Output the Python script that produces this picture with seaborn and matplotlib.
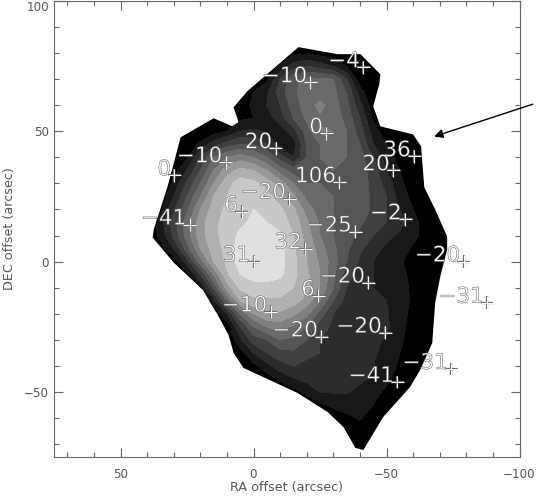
# Gray contour map of RA/DEC offsets with labelled positions
import numpy as np
import pandas as pd
import seaborn as sns
import matplotlib.pyplot as plt
import matplotlib.patheffects as pe
from matplotlib.patches import Polygon
from matplotlib.ticker import MultipleLocator

# Grid of map levels
ra_grid = [40, 35, 30, 25, 20, 15, 10, 5, 0, -5, -10, -15, -20, -25, -30, -35, -40, -45, -50, -55, -60, -65, -70, -75, -80]
dec_grid = [85, 80, 75, 70, 65, 60, 55, 50, 45, 40, 35, 30, 25, 20, 15, 10, 5, 0, -5, -10, -15, -20, -25, -30, -35, -40, -45, -50, -55, -60, -65, -70, -75]
level_rows = [
    [0, 0, 0, 0, 0, 0, 0, 0, 0, 0, 0, 0, 0, 0, 0, 0, 0, 0, 0, 0, 0, 0, 0, 0, 0],
    [0, 0, 0, 0, 0, 0, 0, 0, 0, 0, 0, .7, .9, .6, .3, 0, 0, 0, 0, 0, 0, 0, 0, 0, 0],
    [0, 0, 0, 0, 0, 0, 0, 0, 0, .3, 1.2, 2.5, 3, 2.5, 2, 1, .5, 0, 0, 0, 0, 0, 0, 0, 0],
    [0, 0, 0, 0, 0, 0, 0, 0, .1, .8, 3, 4.8, 5.2, 5.2, 5, 3, .3, 0, 0, 0, 0, 0, 0, 0, 0],
    [0, 0, 0, 0, 0, 0, 0, 0, 1, 1.8, 3.5, 4.8, 5.5, 5.5, 5.3, 4, 1.5, 0, 0, 0, 0, 0, 0, 0, 0],
    [0, 0, 0, 0, 0, 0, 0, .5, 1.2, 2, 3, 4.5, 5.5, 6.3, 5.5, 4.3, 2.3, .4, 0, 0, 0, 0, 0, 0, 0],
    [0, 0, 0, 0, 0, 0, .3, .8, 1, 1.5, 2.5, 4, 5.2, 5.8, 5.5, 4.7, 3, .8, 0, 0, 0, 0, 0, 0, 0],
    [0, 0, 0, 0, .2, .5, 1, 2, 2.2, 1.8, 1.5, 2.5, 4.5, 6.1, 6, 5, 3.5, 1.5, .4, .2, 0, 0, 0, 0, 0],
    [0, 0, 0, .3, 1.2, 2.5, 3.5, 4, 4, 3, 1.5, 1.5, 4, 5, 5.5, 5, 4, 2, 1, .5, .2, 0, 0, 0, 0],
    [0, 0, .2, .8, 3, 5, 6, 6.5, 6, 5, 3.5, 2, 4, 5, 5.5, 5, 4.5, 3, 1.5, .6, .2, 0, 0, 0, 0],
    [0, 0, .6, 2, 4, 6, 7.5, 8.3, 8, 7, 5.5, 4.5, 4.5, 5, 5, 5, 4.5, 3.5, 2, 1, .4, 0, 0, 0, 0],
    [0, 0, 1.2, 3.2, 5, 7, 8.6, 9.5, 9.3, 8.5, 7.5, 6, 5, 5, 5, 5, 4.5, 3.7, 2.6, 1.2, .5, 0, 0, 0, 0],
    [0, .3, 2, 4, 6, 8, 9, 9.5, 9.5, 9.3, 8.5, 7.2, 5.7, 5.2, 5, 5, 4.5, 3.8, 3, 1.5, .7, .3, 0, 0, 0],
    [0, .8, 2.8, 4.8, 7, 8.5, 9.2, 9.6, 10, 9.6, 9.2, 8.2, 6.5, 5.5, 5, 5, 4.5, 3.8, 3, 2, 1, .5, .1, 0, 0],
    [0, 1.5, 3.5, 5.5, 7.5, 8.8, 9.3, 9.7, 10.3, 10, 9.5, 8.7, 7.2, 5.8, 5, 4.8, 4.2, 3.5, 3, 2.4, 1.2, .7, .3, 0, 0],
    [0, 1.3, 3.2, 5.5, 7.5, 8.8, 9.3, 10.3, 10.6, 10.5, 10.2, 9, 7.5, 6, 5, 4.5, 3.7, 3, 2.3, 1.8, 1.2, .7, .3, 0, 0],
    [0, .5, 2, 4.5, 7, 8.5, 9.3, 10.5, 10.8, 10.8, 10.4, 9.2, 7.8, 6.5, 5.2, 4.2, 3.2, 2.3, 1.8, 1.3, .9, .6, .3, 0, 0],
    [0, 0, .3, 2.5, 5.5, 8, 9.2, 10.5, 10.9, 10.8, 10.4, 9.3, 8, 6.8, 5.5, 4, 2.8, 2, 1.5, 1.1, .7, .4, .2, 0, 0],
    [0, 0, 0, .6, 3, 6, 8.8, 10, 10.5, 10.5, 10.2, 9.3, 8.2, 7, 5.2, 3.5, 2.4, 2, 1.6, 1.2, .8, .4, 0, 0, 0],
    [0, 0, 0, 0, 1, 4, 7.5, 9.2, 9.5, 9.6, 9.5, 9, 8.3, 7, 5, 3, 2.5, 2, 1.8, 1.4, .8, .4, 0, 0, 0],
    [0, 0, 0, 0, 0, 1.8, 5, 8, 8.8, 8.8, 8.8, 8.5, 7.5, 6, 4, 2.6, 2.3, 2.2, 2, 1.5, .8, .4, 0, 0, 0],
    [0, 0, 0, 0, 0, 0, 2, 5, 7, 8, 7.8, 7.2, 6.3, 4.5, 3, 2.5, 2.2, 2.2, 2.1, 1.4, .7, .3, 0, 0, 0],
    [0, 0, 0, 0, 0, 0, .3, 3, 5, 6, 6.5, 5.8, 5, 3.5, 2.8, 2.5, 2.2, 2.1, 2.2, 1.3, .6, .2, 0, 0, 0],
    [0, 0, 0, 0, 0, 0, 0, 1.8, 3.5, 4, 5, 4.8, 4, 3, 2.8, 2.6, 2.3, 2.2, 1.9, 1.2, .5, 0, 0, 0, 0],
    [0, 0, 0, 0, 0, 0, 0, .5, 2, 3, 3.6, 3.8, 3.2, 3, 2.7, 2.5, 2.3, 2.2, 1.5, 1, .4, 0, 0, 0, 0],
    [0, 0, 0, 0, 0, 0, 0, 0, .7, 1.7, 2.6, 3, 2.8, 2.7, 2.6, 2.5, 2.3, 2, 1.3, .9, .3, 0, 0, 0, 0],
    [0, 0, 0, 0, 0, 0, 0, 0, 0, .4, 1.2, 1.9, 2.3, 2.5, 2.6, 2.3, 2.2, 1.8, 1.2, .6, .1, 0, 0, 0, 0],
    [0, 0, 0, 0, 0, 0, 0, 0, 0, 0, 0, .6, 1.3, 2, 2.1, 2.1, 1.7, 1.3, .8, .3, 0, 0, 0, 0, 0],
    [0, 0, 0, 0, 0, 0, 0, 0, 0, 0, 0, 0, 0, .8, 1.2, 1.4, 1.3, 1, .4, 0, 0, 0, 0, 0, 0],
    [0, 0, 0, 0, 0, 0, 0, 0, 0, 0, 0, 0, 0, 0, .4, .8, 1.1, .5, .1, 0, 0, 0, 0, 0, 0],
    [0, 0, 0, 0, 0, 0, 0, 0, 0, 0, 0, 0, 0, 0, 0, .2, .5, .2, 0, 0, 0, 0, 0, 0, 0],
    [0, 0, 0, 0, 0, 0, 0, 0, 0, 0, 0, 0, 0, 0, 0, 0, .2, 0, 0, 0, 0, 0, 0, 0, 0],
    [0, 0, 0, 0, 0, 0, 0, 0, 0, 0, 0, 0, 0, 0, 0, 0, 0, 0, 0, 0, 0, 0, 0, 0, 0],
]
band_levels = [-1, 1, 2, 3, 4, 5, 6, 7, 8, 9, 10, 11, 12]
band_colors = ['#000000', '#181818', '#2c2c2c', '#404040', '#555555', '#6a6a6a',
               '#808080', '#989898', '#b0b0b0', '#c8c8c8', '#e0e0e0', '#f0f0f0']

# Outline of the mapped region
edge_ra = [-16.9, -31.5, -40.2, -47.7, -47.3, -45.0, -47.7, -60.0, -63.0, -64.2, -68.3, -72.8, -72.8,
           -70.2, -68.3, -67.2, -62.7, -58.9, -48.8, -41.3, -38.3, -33.8, -27.8, -16.5, 3.8, 7.5,
           9.4, 13.5, 19.1, 30.0, 37.9, 37.5, 32.3, 27.4, 15.0, 7.9, 5.6, 7.5, 2.3]
edge_dec = [82.3, 79.6, 79.6, 71.9, 68.1, 59.6, 51.9, 48.8, 44.2, 28.5, 20.0, 9.6, 4.6,
            -5.8, -15.8, -31.2, -41.5, -48.1, -59.6, -72.3, -71.5, -63.5, -57.7, -50.4, -40.8, -35.0,
            -28.1, -20.4, -10.8, -0.4, 9.2, 12.3, 28.8, 47.7, 55.0, 51.9, 53.5, 59.2, 65.4]

# Marked positions and their labels
point_labels = ['\u22124', '\u221210', '0', '36', '20', '106', '\u221225', '\u22122', '20', '\u221210', '0',
                '\u221220', '6', '\u221241', '31', '32', '6', '\u221210', '\u221220', '\u221220', '\u221220',
                '\u221231', '\u221220', '\u221231', '\u221241']
point_ra = [-41.3, -21.4, -27.4, -60.4, -52.5, -32.3, -38.3, -57.0, -8.3, 10.5, 29.7,
            -13.5, 4.5, 24.0, 0.0, -19.5, -24.4, -6.4, -25.5, -79.0, -43.2,
            -87.8, -49.5, -74.3, -54.1]
point_dec = [74.6, 68.8, 49.2, 40.4, 35.0, 30.4, 11.5, 16.2, 43.5, 38.1, 33.1,
             24.2, 19.2, 14.2, 0.0, 5.0, -13.1, -19.2, -28.8, 0.0, -8.1,
             -15.8, -27.3, -41.2, -46.2]

sns.set_style('ticks')
fig = plt.figure(figsize=(5.36, 4.97), dpi=100)
ax = fig.add_axes([54 / 536, 40 / 497, 465.5 / 536, 456 / 497])

# Filled contours, cut to the region outline
filled = ax.contourf(ra_grid, dec_grid, np.array(level_rows), levels=band_levels, colors=band_colors)
outline = Polygon(np.column_stack([edge_ra, edge_dec]), closed=True, transform=ax.transData,
                  facecolor='none', edgecolor='none')
ax.add_patch(outline)
filled.set_clip_path(outline)

# Plus signs at each position
df = pd.DataFrame({'ra': point_ra, 'dec': point_dec, 'label': point_labels})
sns.scatterplot(data=df, x='ra', y='dec', marker='+', color='white', s=85, linewidth=0.8, ax=ax, clip_on=False, zorder=4)
ax.collections[-1].set_path_effects([pe.withStroke(linewidth=1.6, foreground='#666666')])

for _, row in df.iterrows():
    ax.annotate(row['label'], (row['ra'], row['dec']), xytext=(-2.5, 0), textcoords='offset points',
                ha='right', va='baseline', fontsize=15.5, color='white', zorder=5,
                path_effects=[pe.Stroke(linewidth=0.35, foreground='#555555')])

# Arrow pointing at the edge of the region
ax.annotate('', xy=(-67.9, 48), xytext=(-105, 60.4), annotation_clip=False,
            arrowprops=dict(arrowstyle='-|>', color='black', lw=1, mutation_scale=13, shrinkA=0, shrinkB=0))

ax.set_xlim(75, -100)
ax.set_ylim(-75, 100)
ax.xaxis.set_major_locator(MultipleLocator(50))
ax.xaxis.set_minor_locator(MultipleLocator(10))
ax.yaxis.set_major_locator(MultipleLocator(50))
ax.yaxis.set_minor_locator(MultipleLocator(10))
ax.tick_params(which='major', direction='in', length=6.5, width=0.8, color='#666666', labelcolor='#555555',
               labelsize=8.6, top=True, right=True)
ax.tick_params(axis='x', which='major', pad=8)
ax.tick_params(axis='y', which='major', pad=3.5)
ax.tick_params(which='minor', direction='in', length=3.5, width=0.8, color='#666666', top=True, right=True)
for spine in ax.spines.values():
    spine.set_color('#666666')
    spine.set_linewidth(0.8)
ax.set_xlabel('RA offset (arcsec)', fontsize=9.2, color='#555555', labelpad=0)
ax.set_ylabel('DEC offset (arcsec)', fontsize=9.2, color='#555555', labelpad=6)

# Keep the top tick label inside the figure
fig.canvas.draw()
for tick_label in ax.get_yticklabels():
    if tick_label.get_position()[1] == 100:
        tick_label.set_va('top')

fig.savefig('out.png', dpi=100)
